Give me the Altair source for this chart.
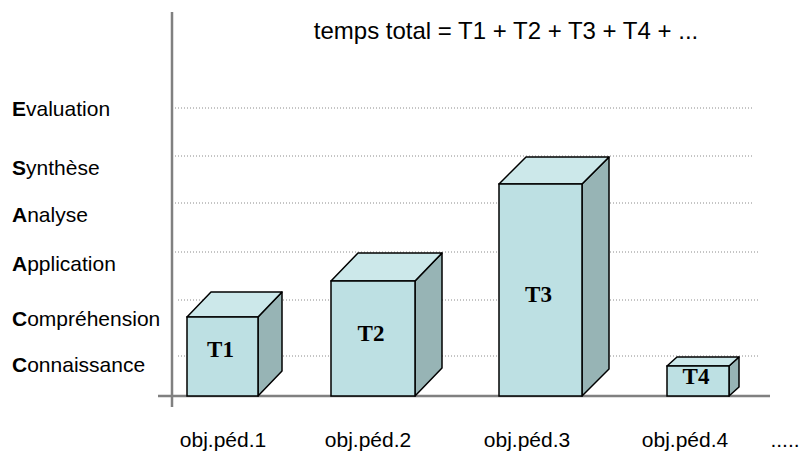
import altair as alt
import pandas as pd

# ---------------- data ----------------
title_text = "temps total = T1 + T2 + T3 + T4 + ..."
categories = ["obj.péd.1", "obj.péd.2", "obj.péd.3", "obj.péd.4", "....."]
bar_names = ["T1", "T2", "T3", "T4"]
bar_heights = [79, 115, 212, 30]
levels = ["Evaluation", "Synthèse", "Analyse", "Application", "Compréhension", "Connaissance"]
level_grid = [288, 240, 193, 144, 96, 40]
level_text = [280, 221, 174, 125, 70, 24]

# ---------------- layout (scale units) ----------------
bar_left = [187, 331, 499, 667]
bar_width = [71, 84, 83, 62]
bar_depth = [24, 27, 27, 10]
bar_rise = [25, 28, 27, 9]
bar_label_y = [46, 62, 101, 19]
cat_x = [223, 368, 527, 685, 785]
cat_y = -51
grid_x0 = [172, 172, 172, 172, 178, 178]
grid_x1 = [753, 753, 753, 760, 760, 760]
label_x = 12
title_x, title_y = 506, 357

SANS = "Liberation Sans"
SERIF = "Liberation Serif"
FRONT, TOP, SIDE = "#BDE0E3", "#CCE8EA", "#97B4B5"

xs = alt.Scale(domain=[8, 803], nice=False, zero=False)
ys = alt.Scale(domain=[-61, 388], nice=False, zero=False)


def X(f="x"):
    return alt.X(f"{f}:Q", scale=xs, axis=None)


def Y(f="y"):
    return alt.Y(f"{f}:Q", scale=ys, axis=None)


# front faces
front = pd.DataFrame({
    "bar": bar_names,
    "x": bar_left,
    "x2": [l + w for l, w in zip(bar_left, bar_width)],
    "y": [0] * 4,
    "y2": bar_heights,
})

side_rows, top_rows = [], []
for n, l, w, h, d, r in zip(bar_names, bar_left, bar_width, bar_heights, bar_depth, bar_rise):
    side_rows.append({"bar": n, "x": l + w, "y": 0, "y2": h})
    side_rows.append({"bar": n, "x": l + w + d, "y": r, "y2": h + r})
    top_rows.append({"bar": n, "y": h, "x": l, "x2": l + w})
    top_rows.append({"bar": n, "y": h + r, "x": l + d, "x2": l + w + d})
side = pd.DataFrame(side_rows)
top = pd.DataFrame(top_rows)

grid = pd.DataFrame({"y": level_grid, "x": grid_x0, "x2": grid_x1})

bold_w = {"E": 0.667, "S": 0.667, "A": 0.722, "C": 0.722}
LFS = 21
lab = pd.DataFrame({
    "first": [s[0] for s in levels],
    "rest": [s[1:] for s in levels],
    "y": level_text,
    "x": [label_x] * 6,
    "x_rest": [label_x + bold_w[s[0]] * LFS for s in levels],
})

bar_lab = pd.DataFrame({
    "t": bar_names,
    "x": [l + w / 2 - 2 for l, w in zip(bar_left, bar_width)],
    "y": bar_label_y,
})

cats = pd.DataFrame({"t": categories, "x": cat_x, "y": [cat_y] * 5})

axes_df = pd.DataFrame({
    "x": [172, 158], "x2": [172, 770], "y": [384, 0], "y2": [-11, 0]
})

title_df = pd.DataFrame({"t": [title_text], "x": [title_x], "y": [title_y]})

layers = [
    alt.Chart(grid).mark_rule(color="#8a8a8a", strokeWidth=1, strokeDash=[1, 2]).encode(
        x=X(), x2="x2", y=Y()),
    alt.Chart(axes_df).mark_rule(color="#808080", strokeWidth=2.5).encode(
        x=X(), x2="x2", y=Y(), y2="y2"),
    alt.Chart(side).mark_area(color=SIDE, stroke="black", strokeWidth=1.5, strokeJoin="round",
                               opacity=1).encode(x=X(), y=Y(), y2="y2", detail="bar:N"),
    alt.Chart(top).mark_area(orient="horizontal", color=TOP, stroke="black", strokeWidth=1.5,
                              strokeJoin="round", opacity=1).encode(
        y=Y(), x=X(), x2="x2", detail="bar:N"),
    alt.Chart(front).mark_rect(color=FRONT, stroke="black", strokeWidth=1.5).encode(
        x=X(), x2="x2", y=Y(), y2="y2"),
    alt.Chart(bar_lab).mark_text(font=SERIF, fontSize=23, fontWeight="bold", color="black",
                                 baseline="middle", align="center").encode(
        x=X(), y=Y(), text="t:N"),
    alt.Chart(lab).mark_text(font=SANS, fontSize=LFS, fontWeight="bold", color="black",
                             align="left", baseline="alphabetic").encode(
        x=X(), y=Y(), text="first:N"),
    alt.Chart(lab).mark_text(font=SANS, fontSize=LFS, color="black",
                             align="left", baseline="alphabetic").encode(
        x=X("x_rest"), y=Y(), text="rest:N"),
    alt.Chart(cats).mark_text(font=SANS, fontSize=21, color="black",
                              align="center", baseline="alphabetic").encode(
        x=X(), y=Y(), text="t:N"),
    alt.Chart(title_df).mark_text(font=SANS, fontSize=24, color="black",
                                  align="center", baseline="alphabetic").encode(
        x=X(), y=Y(), text="t:N"),
]

chart = alt.layer(*layers).properties(
    width=795, height=449,
    autosize=alt.AutoSizeParams(type="none"),
    padding=0,
    background="white",
).configure_view(stroke=None)

chart.save("out.html", embed_options={"renderer": "svg", "actions": False})
